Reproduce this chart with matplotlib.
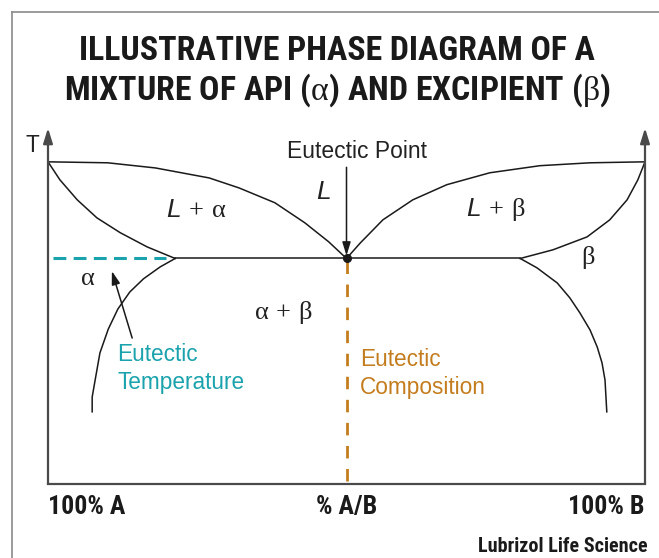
import matplotlib.pyplot as plt
from matplotlib.lines import Line2D
from matplotlib import font_manager

plt.rcParams['mathtext.fontset'] = 'custom'
plt.rcParams['mathtext.rm'] = 'Liberation Serif'
plt.rcParams['mathtext.it'] = 'Liberation Sans:italic'
plt.rcParams['mathtext.bf'] = 'Liberation Serif:bold'

# composition (% B) and temperature (melting point of pure A/B = 100)
liq_a_x = [0, 10, 18, 27, 32, 38, 43, 47, 50]
liq_a_T = [100, 99.7, 98.1, 95.0, 91.9, 87.3, 81.1, 75.2, 70]
sol_a_x = [0, 2.0, 4.9, 8.2, 12.1, 16.6, 21.3]
sol_a_T = [100, 94.4, 88.2, 82.6, 78.0, 73.6, 70]
solv_a_x = [21.3, 18.8, 16.0, 13.7, 11.7, 10.1, 8.7, 7.9, 7.4, 7.4]
solv_a_T = [70, 67.4, 63.7, 59.6, 54.3, 48.1, 40.7, 32.3, 27.0, 22.4]

liq_b_x = [50, 52.3, 56.1, 61.1, 66.8, 74.0, 82.4, 90.8, 100]
liq_b_T = [70, 74.8, 82.0, 88.2, 92.9, 96.6, 98.8, 99.7, 100]
sol_b_x = [100, 98.8, 97.0, 94.1, 90.3, 84.6, 79.1]
sol_b_T = [100, 94.4, 88.2, 82.0, 76.7, 72.7, 70]
solv_b_x = [79.1, 81.9, 85.3, 87.4, 89.1, 90.8, 92.0, 92.8, 93.3, 93.6]
solv_b_T = [70, 67.1, 62.4, 57.8, 53.1, 47.8, 42.5, 37.6, 32.3, 22.4]

eut_x = 50
eut_T = 70
eut_line_x = [21.3, 79.1]
eut_temp_x = [0.8, 19.8]

x_labels = ['100% A', '% A/B', '100% B']
x_label_pos = [0, 50, 100]

title = ('ILLUSTRATIVE PHASE DIAGRAM OF A\n'
         r'MIXTURE OF API ($\mathrm{\alpha}$) AND EXCIPIENT ($\mathrm{\beta}$)')

teal = '#1ba3ad'
orange = '#c47d1e'
axcol = '#4a4a4a'

names = {f.name for f in font_manager.fontManager.ttflist}


def pick(cands):
    return [c for c in cands if c in names] + ['DejaVu Sans']


cond = pick(['Liberation Sans Narrow', 'Roboto Condensed', 'Noto Sans Condensed',
             'Open Sans Condensed', 'Roboto', 'Liberation Sans'])
plain = pick(['Liberation Sans'])

fig = plt.figure(figsize=(6.59, 5.58), dpi=100)
W, H = 659, 558

# outer frame (left and top edges)
fig.add_artist(Line2D([12 / W, 12 / W], [0, 1 - 12 / H], color='#8a8a8a', lw=1.2))
fig.add_artist(Line2D([12 / W, 1], [1 - 12 / H, 1 - 12 / H], color='#8a8a8a', lw=1.2))

t_title = fig.text(337 / W, 1 - 72 / H, title, ha='center', va='center', fontsize=25,
                   fontweight='bold', family=cond, stretch='condensed',
                   linespacing=1.12, color='#1a1a1a')

ax = fig.add_axes([48 / W, 1 - 484 / H, 597 / W, 356 / H])
ax.set_xlim(0, 100)
ax.set_ylim(0, 110.5)
for s in ['top', 'left', 'right']:
    ax.spines[s].set_visible(False)
ax.spines['bottom'].set_color(axcol)
ax.spines['bottom'].set_linewidth(1.6)
ax.set_xticks([])
ax.set_yticks([])
ax.patch.set_alpha(0)

# temperature axes with arrows
for xa in [0, 100]:
    ax.annotate('', xy=(xa, 110.5), xytext=(xa, 0),
                arrowprops=dict(arrowstyle='-|>,head_length=0.9,head_width=0.28',
                                color=axcol, lw=1.6, shrinkA=0, shrinkB=0),
                annotation_clip=False)

lk = dict(color='#1a1a1a', lw=1.1)
ax.plot(liq_a_x, liq_a_T, **lk)
ax.plot(sol_a_x, sol_a_T, **lk)
ax.plot(solv_a_x, solv_a_T, **lk)
ax.plot(liq_b_x, liq_b_T, **lk)
ax.plot(sol_b_x, sol_b_T, **lk)
ax.plot(solv_b_x, solv_b_T, **lk)
ax.plot(eut_line_x, [eut_T, eut_T], **lk)

ax.plot(eut_temp_x, [eut_T, eut_T], color=teal, lw=2.2, ls=(0, (4.2, 2.4)))
ax.plot([eut_x, eut_x], [eut_T - 0.8, 0], color=orange, lw=2.0, ls=(0, (4.5, 3.8)))
ax.plot([eut_x], [eut_T], 'o', color='#1a1a1a', ms=5.5, zorder=5)

ax.annotate('', xy=(eut_x, eut_T + 0.9), xytext=(eut_x, 98.3),
            arrowprops=dict(arrowstyle='-|>,head_length=0.8,head_width=0.25',
                            color='#1a1a1a', lw=1.1, shrinkA=0, shrinkB=0))
ax.annotate('', xy=(10.7, 66.1), xytext=(14.1, 45.3),
            arrowprops=dict(arrowstyle='-|>,head_length=0.8,head_width=0.25',
                            color='#1a1a1a', lw=1.1, shrinkA=0, shrinkB=0))

tk = dict(ha='center', va='center', fontsize=19, color='#222222')
ax.text(51.8, 103.1, 'Eutectic Point', family=plain, ha='center', va='center',
        fontsize=16.5, color='#222222')
ax.text(46.2, 90.6, r'$L$', **tk)
ax.text(24.8, 85.1, r'$L\,+\,\mathrm{\alpha}$', **tk)
ax.text(75.0, 85.1, r'$L\,+\,\mathrm{\beta}$', **tk)
ax.text(6.7, 64.0, r'$\mathrm{\alpha}$', **tk)
ax.text(90.5, 70.2, r'$\mathrm{\beta}$', **tk)
ax.text(39.4, 53.1, r'$\mathrm{\alpha\,+\,\beta}$', **tk)
ax.text(11.6, 43.8, 'Eutectic\nTemperature', ha='left', va='top', fontsize=16.3,
        family=plain, color=teal, linespacing=1.28)
ax.text(52.3, 42.1, 'Eutectic\nComposition', ha='left', va='top', fontsize=16.3,
        family=plain, color=orange, linespacing=1.28)
ax.text(-2.7, 105.0, 'T', ha='center', va='center', fontsize=16.3, family=plain,
        color='#222222', clip_on=False)

bottom = []
for lab, xp, ha in zip(x_labels, x_label_pos, ['left', 'center', 'right']):
    bottom.append(ax.text(xp, -7.0, lab, ha=ha, va='center', fontsize=16,
                          fontweight='bold', family=cond, stretch='condensed',
                          color='#1a1a1a', clip_on=False))

t_logo = fig.text(648 / W, 1 - 547 / H, 'Lubrizol Life Science', ha='right',
                  va='center', fontsize=12, fontweight='bold', family=cond,
                  stretch='condensed', color='#1a1a1a')

# fit the condensed-looking texts to the widths they take in the original
fig.canvas.draw()
r = fig.canvas.get_renderer()
for t, target in [(t_title, 547), (bottom[0], 77), (t_logo, 170)]:
    w = t.get_window_extent(r).width
    t.set_fontsize(t.get_fontsize() * target / w)
bottom[1].set_fontsize(bottom[0].get_fontsize())
bottom[2].set_fontsize(bottom[0].get_fontsize())

fig.savefig('out.png', dpi=100)
